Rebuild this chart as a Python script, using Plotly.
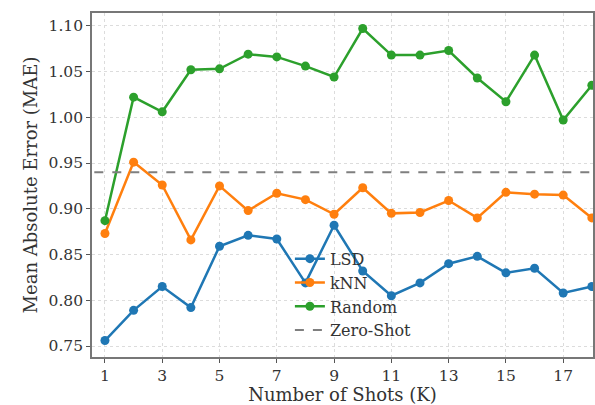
import plotly.graph_objects as go

shots = list(range(1, 19))
lsd = [0.756, 0.789, 0.815, 0.792, 0.859, 0.871, 0.867, 0.819, 0.882, 0.832,
       0.805, 0.819, 0.840, 0.848, 0.830, 0.835, 0.808, 0.815]
knn = [0.873, 0.951, 0.926, 0.866, 0.925, 0.898, 0.917, 0.910, 0.894, 0.923,
       0.895, 0.896, 0.909, 0.890, 0.918, 0.916, 0.915, 0.890]
rand = [0.887, 1.022, 1.006, 1.052, 1.053, 1.069, 1.066, 1.056, 1.044, 1.097,
        1.068, 1.068, 1.073, 1.043, 1.017, 1.068, 0.997, 1.035]
zero_shot = 0.940
x_ticks = [1, 3, 5, 7, 9, 11, 13, 15, 17]
y_ticks = [0.75, 0.80, 0.85, 0.90, 0.95, 1.00, 1.05, 1.10]

FONT = "DejaVu Serif"
fig = go.Figure()
for name, vals, col in [("LSD", lsd, "#1f77b4"), ("kNN", knn, "#ff7f0e"), ("Random", rand, "#2ca02c")]:
    fig.add_trace(go.Scatter(x=shots, y=vals, name=name, mode="lines+markers",
                             line=dict(color=col, width=2.5),
                             marker=dict(color=col, size=9)))
fig.add_trace(go.Scatter(x=[0.0, 19.0], y=[zero_shot, zero_shot], name="Zero-Shot", mode="lines",
                         line=dict(color="#7f7f7f", width=2, dash="dash")))

fig.update_layout(
    width=595, height=405,
    margin=dict(l=92, r=0, t=13, b=48),
    plot_bgcolor="white", paper_bgcolor="white",
    font=dict(family=FONT, size=15.5, color="#333"),
    legend=dict(x=0.395, y=0.335, xanchor="left", yanchor="top",
                bgcolor="rgba(0,0,0,0)", font=dict(family=FONT, size=16, color="#333"),
                tracegroupgap=0, itemwidth=30),
    showlegend=True,
)
fig.update_xaxes(range=[0.548, 18.04], tickvals=x_ticks, ticks="outside", ticklen=4,
                 tickcolor="#555", showline=True, linecolor="#777", linewidth=1.6, mirror=True,
                 showgrid=True, gridcolor="#dcdcdc", griddash="dot", gridwidth=1,
                 zeroline=False, tickfont=dict(size=15.5),
                 title=dict(text="Number of Shots (K)", font=dict(family=FONT, size=18), standoff=2))
fig.update_yaxes(range=[0.738, 1.114], tickvals=y_ticks, tickformat=".2f", ticks="outside", ticklen=4,
                 tickcolor="#555", showline=True, linecolor="#777", linewidth=1.6, mirror=True,
                 showgrid=True, gridcolor="#dcdcdc", griddash="dot", gridwidth=1,
                 zeroline=False, tickfont=dict(size=15.5),
                 title=dict(text="Mean Absolute Error (MAE)", font=dict(family=FONT, size=18), standoff=6))

fig.write_html("out.html")
